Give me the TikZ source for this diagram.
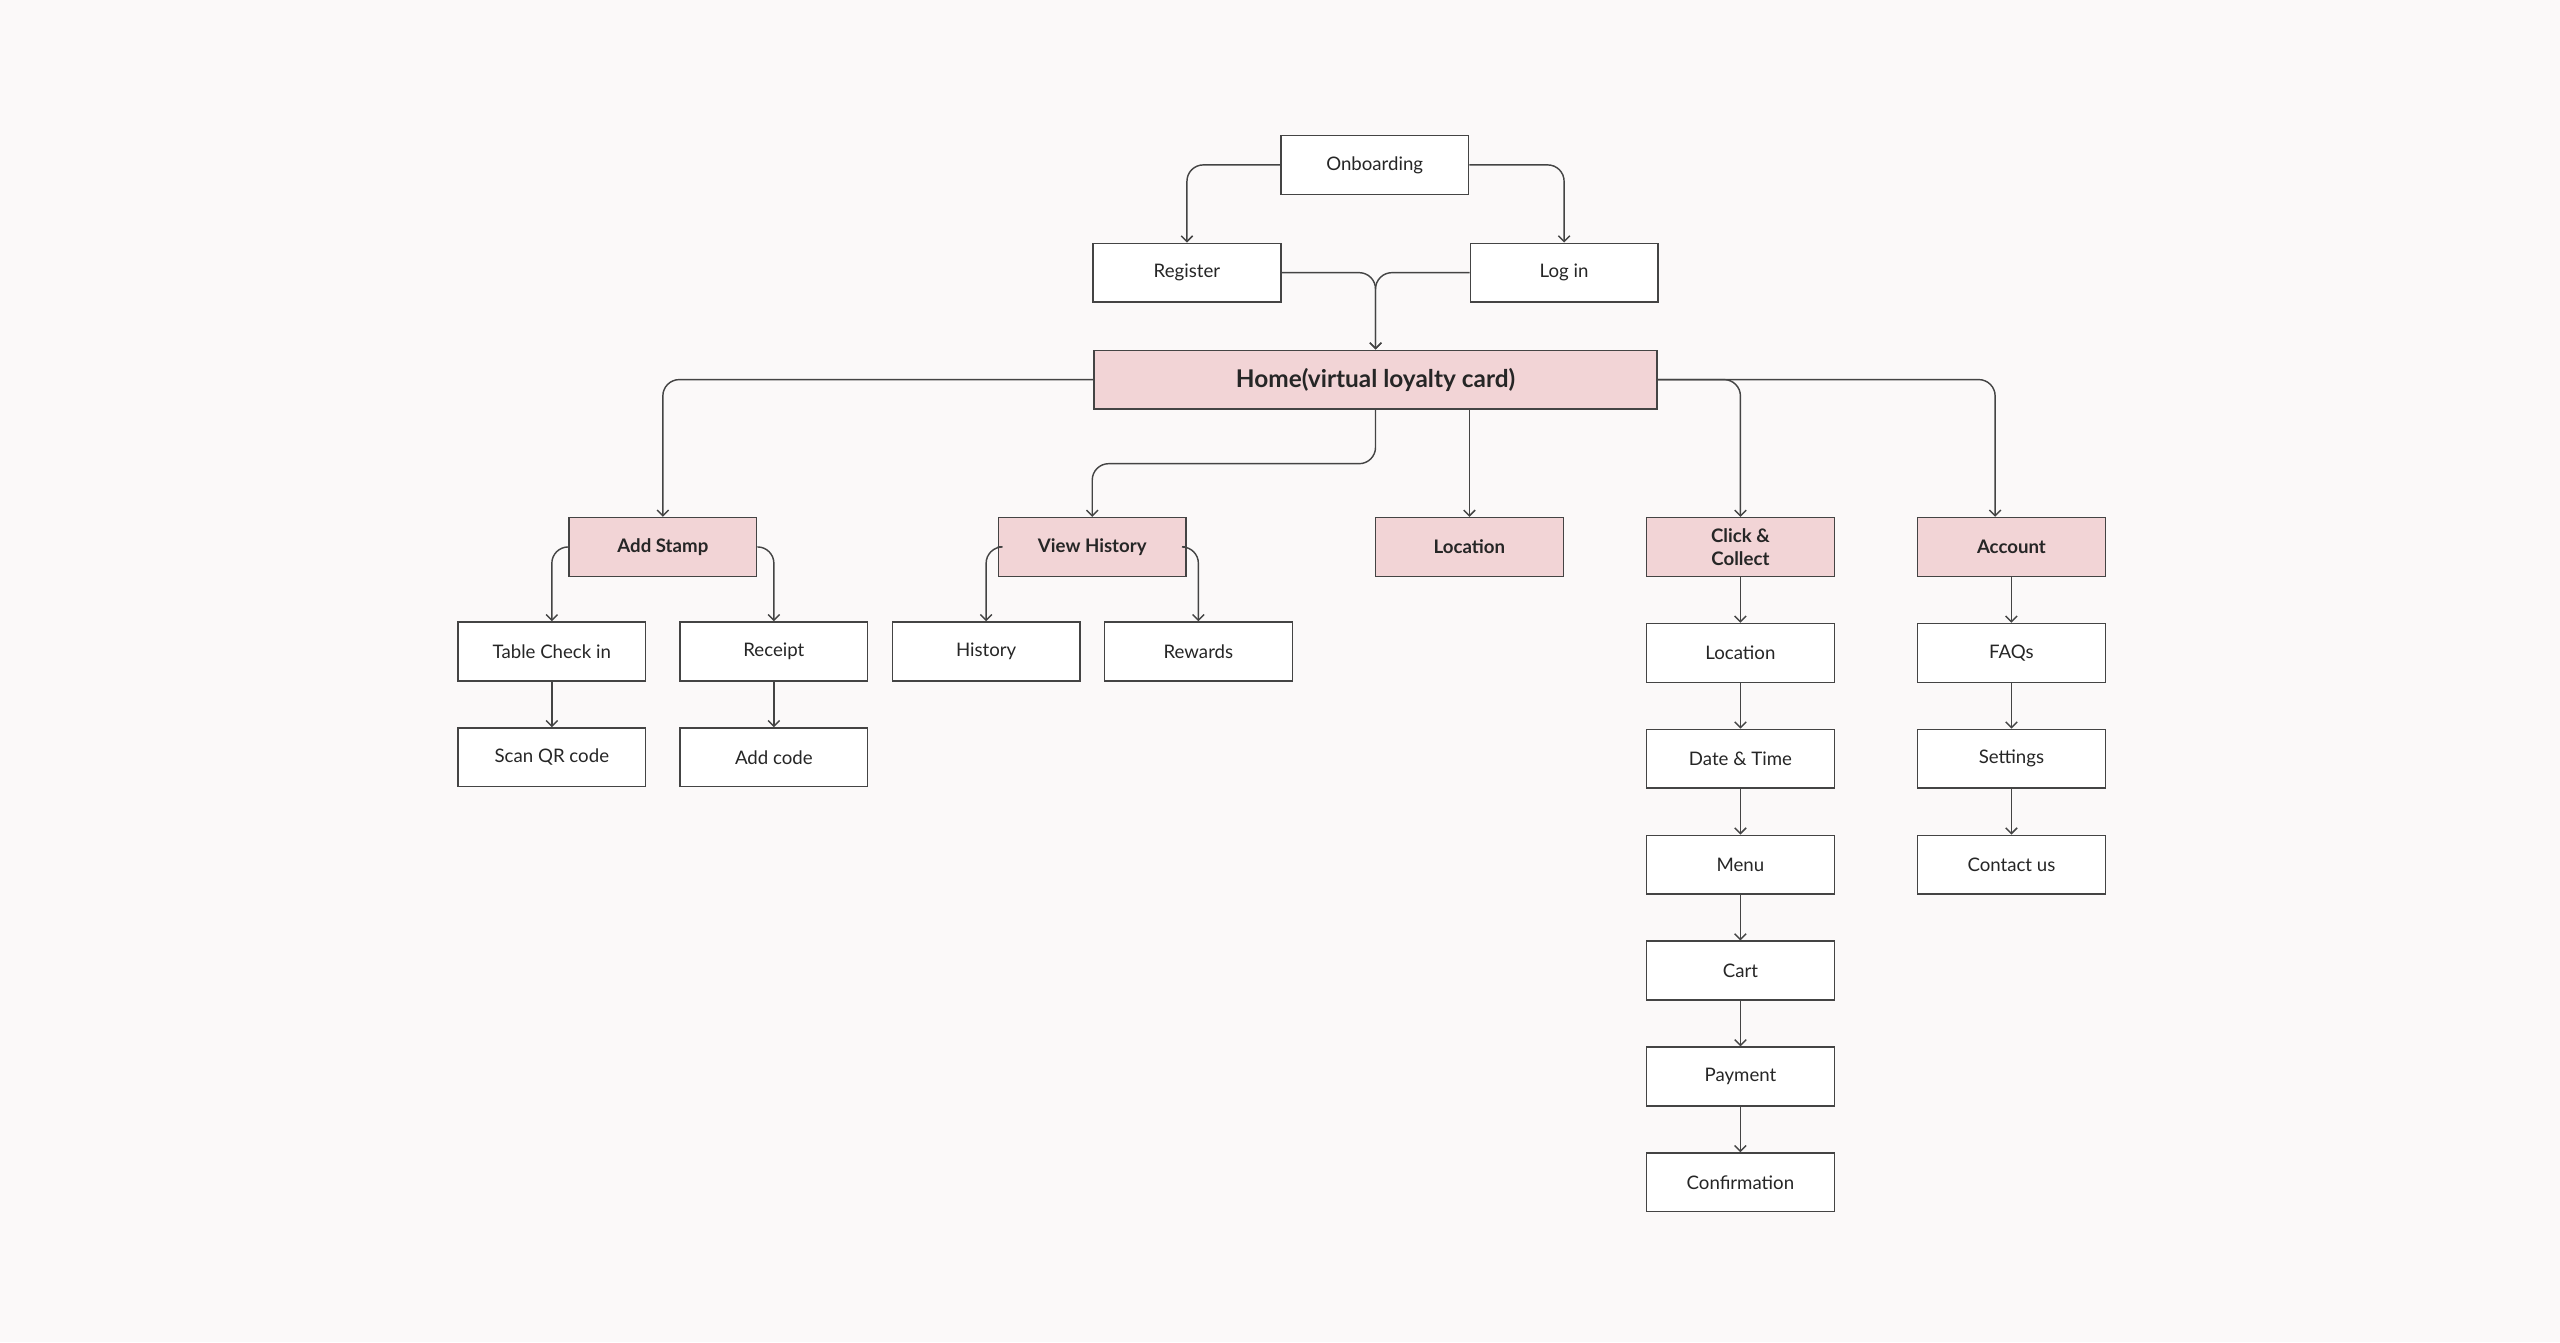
\documentclass[tikz,border=0pt]{standalone}
\usepackage{fontspec}
\setmainfont{Lato}
\usetikzlibrary{arrows.meta,positioning,calc}
\definecolor{bgc}{HTML}{FBF9F9}
\definecolor{pinkc}{HTML}{F2D4D6}
\definecolor{linec}{HTML}{444444}
\begin{document}
\begin{tikzpicture}[x=0.02cm,y=-0.02cm,
	every node/.style={font=\fontsize{6.5}{8}\selectfont, text=black!85},
	screen/.style={draw=linec, fill=white, rectangle, minimum width=2.3cm, minimum height=0.72cm, align=center, line width=0.5pt},
	mainscreen/.style={screen, fill=pinkc, font=\fontsize{6.5}{8}\selectfont\bfseries},
	link/.style={draw=linec, line width=0.5pt, rounded corners=5.7pt, -{Straight Barb[length=2pt,width=4pt]}},
	node distance=0.56cm]
	\fill[bgc] (0,0) rectangle (1568,822);
	
	\node[screen] (onb) at (842,101) {Onboarding};
	\node[screen] (reg) at (727,167) {Register};
	\node[screen] (login) at (958,167) {Log in};
	\node[mainscreen, minimum width=6.9cm, font=\fontsize{8.5}{10}\selectfont\bfseries] (home) at (842.5,232.5) {Home(virtual loyalty card)};
	
	\node[mainscreen] (stamp) at (406,335) {Add Stamp};
	\node[mainscreen] (vhist) at (669,335) {View History};
	\node[mainscreen] (loc) at (900,335) {Location};
	\node[mainscreen] (cc) at (1066,335) {Click \&\\Collect};
	\node[mainscreen] (acc) at (1232,335) {Account};
	
	\node[screen] (table) at (338,399) {Table Check in};
	\node[screen] (receipt) at (474,399) {Receipt};
	\node[screen] (hist) at (604,399) {History};
	\node[screen] (rew) at (734,399) {Rewards};
	\node[screen, below = of table] (qr) {Scan QR code};
	\node[screen, below = of receipt] (code) {Add code};
	
	\node[screen, below = of cc] (ccloc) {Location};
	\node[screen, below = of ccloc] (date) {Date \& Time};
	\node[screen, below = of date] (menu) {Menu};
	\node[screen, below = of menu] (cart) {Cart};
	\node[screen, below = of cart] (pay) {Payment};
	\node[screen, below = of pay] (conf) {Confirmation};
	
	\node[screen, below = of acc] (faq) {FAQs};
	\node[screen, below = of faq] (sett) {Settings};
	\node[screen, below = of sett] (contact) {Contact us};
	
	\coordinate (hv) at (842.5,284);
	
	\draw[link] (onb.west) -| (reg.north);
	\draw[link] (onb.east) -| (login.north);
	\draw[link] (reg.east) -| (home.north);
	\draw[link] (login.west) -| (home.north);
	
	\draw[link] (home.west) -| (stamp.north);
	\draw[link] (home.south) -- (hv) -| (vhist.north);
	\draw[link] (loc.north |- home.south) -- (loc.north);
	\draw[link] (home.east) -| (cc.north);
	\draw[link] (home.east) -| ([xshift=-0.2cm]acc.north);
	
	\draw[link] (stamp.west) -| (table.north);
	\draw[link] (stamp.east) -| (receipt.north);
	\draw[link] (vhist.west) -| (hist.north);
	\draw[link] (vhist.east) -| (rew.north);
	\draw[link] (table) -- (qr);
	\draw[link] (receipt) -- (code);
	
	\draw[link] (cc) -- (ccloc);
	\draw[link] (ccloc) -- (date);
	\draw[link] (date) -- (menu);
	\draw[link] (menu) -- (cart);
	\draw[link] (cart) -- (pay);
	\draw[link] (pay) -- (conf);
	
	\draw[link] (acc) -- (faq);
	\draw[link] (faq) -- (sett);
	\draw[link] (sett) -- (contact);
\end{tikzpicture}
\end{document}
